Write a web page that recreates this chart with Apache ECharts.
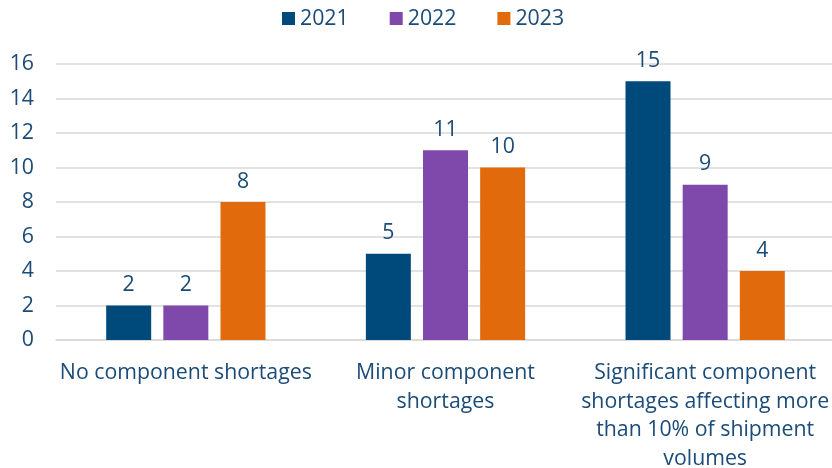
<!DOCTYPE html>
<html><head><meta charset="utf-8">
<script src="https://cdn.jsdelivr.net/npm/echarts@6/dist/echarts.min.js"></script>
<style>html,body{margin:0;padding:0;background:#fff}#c{width:832px;height:468px}</style>
</head><body><div id="c"></div>
<script>
var categories = ["No component shortages", "Minor component\nshortages", "Significant component\nshortages affecting more\nthan 10% of shipment\nvolumes"];
var seriesNames = ["2021", "2022", "2023"];
var v2021 = [2, 5, 15];
var v2022 = [2, 11, 9];
var v2023 = [8, 10, 4];
var colors = ["#004a7b", "#7f49ab", "#e06a0c"];
var yTicks = [0, 16, 2];

var textColor = "#1b4b78";
var font = "'Open Sans', 'Noto Sans', sans-serif";
var fs = 21.3;
var chart = echarts.init(document.getElementById('c'));
var values = [v2021, v2022, v2023];
chart.setOption({
  animation: false,
  textStyle: {fontFamily: font},
  legend: {
    top: 3, left: 277,
    itemWidth: 13, itemHeight: 13, itemGap: 41,
    icon: 'rect',
    textStyle: {fontSize: fs, color: textColor, fontFamily: font},
    data: seriesNames
  },
  grid: {left: 56, top: 64, width: 779, height: 276, containLabel: false, outerBoundsMode: 'none'},
  xAxis: {
    type: 'category', data: categories,
    axisLine: {show: true, lineStyle: {color: '#d9d9d9', width: 1.5}},
    axisTick: {show: false},
    axisLabel: {fontSize: fs, color: textColor, fontFamily: font, lineHeight: 28.5, margin: 19, interval: 0}
  },
  yAxis: {
    type: 'value', min: yTicks[0], max: yTicks[1], interval: yTicks[2],
    axisLine: {show: false}, axisTick: {show: false},
    axisLabel: {fontSize: fs, color: textColor, fontFamily: font, margin: 22},
    splitLine: {lineStyle: {color: '#d9d9d9', width: 1.5}}
  },
  series: seriesNames.map(function(n, i){
    return {
      name: n, type: 'bar', data: values[i],
      barWidth: 45, barGap: '27%',
      itemStyle: {color: colors[i]},
      label: {show: true, position: 'top', distance: 10, fontSize: fs, color: textColor, fontFamily: font}
    };
  })
});
</script></body></html>
